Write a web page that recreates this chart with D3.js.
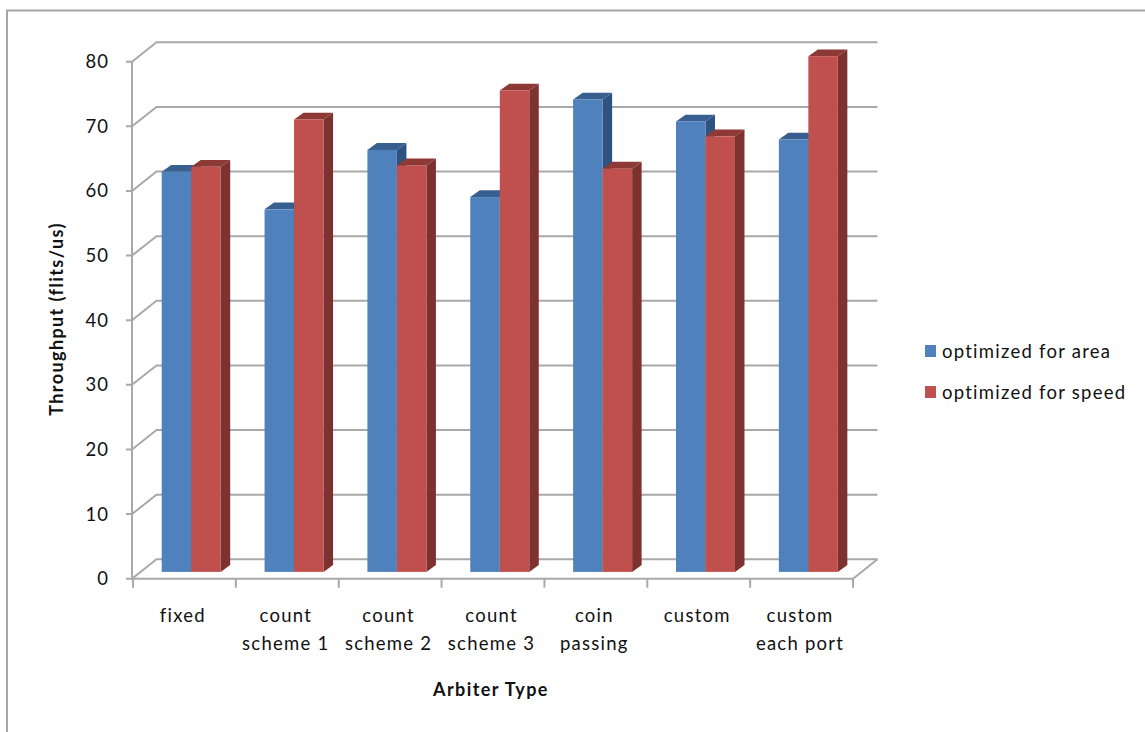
<!DOCTYPE html>
<html>
<head>
<meta charset="utf-8">
<script src="https://cdn.jsdelivr.net/npm/d3@7/dist/d3.min.js"></script>
<style>
  html, body { margin: 0; padding: 0; background: #fff; }
  svg { display: block; }
  text { font-family: Lato, "Open Sans", sans-serif; fill: #111; }
</style>
</head>
<body>
<svg id="chart" width="1145" height="732"></svg>
<script>
// Chart values
const categories = ["fixed", "count scheme 1", "count scheme 2", "count scheme 3", "coin passing", "custom", "custom each port"];
const categoryLines = [["fixed"], ["count", "scheme 1"], ["count", "scheme 2"], ["count", "scheme 3"], ["coin", "passing"], ["custom"], ["custom", "each port"]];
const seriesNames = ["optimized for area", "optimized for speed"];
const areaValues = [61.9, 56.1, 65.3, 58.0, 73.1, 69.7, 66.9];
const speedValues = [62.7, 70.0, 62.9, 74.5, 62.4, 67.4, 79.8];
const yTicks = [0, 10, 20, 30, 40, 50, 60, 70, 80];
const yTitle = "Throughput (flits/us)";
const xTitle = "Arbiter Type";

// Faces of each series: front, top, side
const faces = [
  { front: "#4f81bd", top: "#385f8f", side: "#2f5380" },
  { front: "#c0504d", top: "#8d3a37", side: "#7d3230" }
];

const svg = d3.select("#chart");
const gridColor = "#a9a9a9";

// Projection of the 3-D box: wall depth and bar depth
const wallDx = 24.5, wallDy = -19.4;
const barDx = 9.5, barDy = -6.8;
const floorLift = -6.8;

const y = d3.scaleLinear().domain([0, 80]).range([578.7, 61.7]);
const x = d3.scaleBand().domain(categories).range([133, 853]);
const xSeries = d3.scaleBand().domain(seriesNames).range([28.7, 87.7]);

// Outer frame
svg.append("path")
  .attr("d", d3.line()([[7, 732], [7, 10.5], [1145, 10.5]]))
  .attr("fill", "none").attr("stroke", "#a6a6a6").attr("stroke-width", 2);

// Back wall gridlines and side wall diagonals
const walls = svg.append("g").attr("fill", "none").attr("stroke", gridColor).attr("stroke-width", 2);
walls.selectAll("path.grid").data(yTicks).join("path")
  .attr("class", "grid")
  .attr("d", v => d3.line()([
    [126, y(v)],
    [132, y(v)],
    [132 + wallDx, y(v) + wallDy],
    [853 + wallDx, y(v) + wallDy]
  ]));

// Floor edge and value axis
walls.append("path").attr("d", d3.line()([[132, y(80)], [132, y(0)], [853, y(0)], [853 + wallDx, y(0) + wallDy]]));

// Category ticks
const xBoundaries = categories.map(c => x(c)).concat([x.range()[1]]);
walls.selectAll("path.tick").data(xBoundaries).join("path")
  .attr("class", "tick")
  .attr("d", d => d3.line()([[d, y(0)], [d, y(0) + 9]]));

// Bars, drawn back to front within each category
const barsData = categories.map((c, i) => [areaValues[i], speedValues[i]]);
const groups = svg.append("g").selectAll("g").data(barsData).join("g")
  .attr("transform", (d, i) => `translate(${x(categories[i])},0)`);

groups.each(function (vals) {
  const g = d3.select(this);
  vals.forEach((v, s) => {
    const x0 = xSeries(seriesNames[s]);
    const x1 = x0 + xSeries.bandwidth();
    const top = y(v) + floorLift;
    const base = y(0) + floorLift;
    const poly = pts => d3.line()(pts) + "Z";
    g.append("path").attr("fill", faces[s].side)
      .attr("d", poly([[x1, top], [x1 + barDx, top + barDy], [x1 + barDx, base + barDy], [x1, base]]));
    g.append("path").attr("fill", faces[s].top)
      .attr("d", poly([[x0, top], [x0 + barDx, top + barDy], [x1 + barDx, top + barDy], [x1, top]]));
    g.append("rect").attr("fill", faces[s].front)
      .attr("x", x0).attr("y", top).attr("width", x1 - x0).attr("height", base - top);
  });
});

// Value labels
svg.append("g").selectAll("text").data(yTicks).join("text")
  .attr("x", 109).attr("y", v => y(v)).attr("dy", "0.35em")
  .attr("text-anchor", "end").attr("font-size", 18.5).attr("letter-spacing", 1)
  .text(d => d);

// Category labels
svg.append("g").selectAll("text").data(categoryLines).join("text")
  .attr("text-anchor", "middle").attr("font-size", 18.5).attr("letter-spacing", 1.25)
  .each(function (lines, i) {
    d3.select(this).selectAll("tspan").data(lines).join("tspan")
      .attr("x", x(categories[i]) + x.bandwidth() / 2 - 1.5)
      .attr("y", (l, k) => 622 + k * 28)
      .text(l => l);
  });

// Axis titles
svg.append("text").attr("x", 491).attr("y", 696)
  .attr("text-anchor", "middle").attr("font-size", 18).attr("letter-spacing", 1.4)
  .attr("font-weight", 700).text(xTitle);
svg.append("text").attr("transform", "translate(63,319) rotate(-90)")
  .attr("text-anchor", "middle").attr("font-size", 18).attr("letter-spacing", 1.4)
  .attr("font-weight", 700).text(yTitle);

// Legend
const legend = svg.append("g").selectAll("g").data(seriesNames).join("g")
  .attr("transform", (d, i) => `translate(925,${345 + i * 41})`);
legend.append("rect").attr("width", 11).attr("height", 12).attr("fill", (d, i) => faces[i].front);
legend.append("text").attr("x", 17).attr("y", 13).attr("font-size", 18.5).attr("letter-spacing", 1.25).text(d => d);
</script>
</body>
</html>
